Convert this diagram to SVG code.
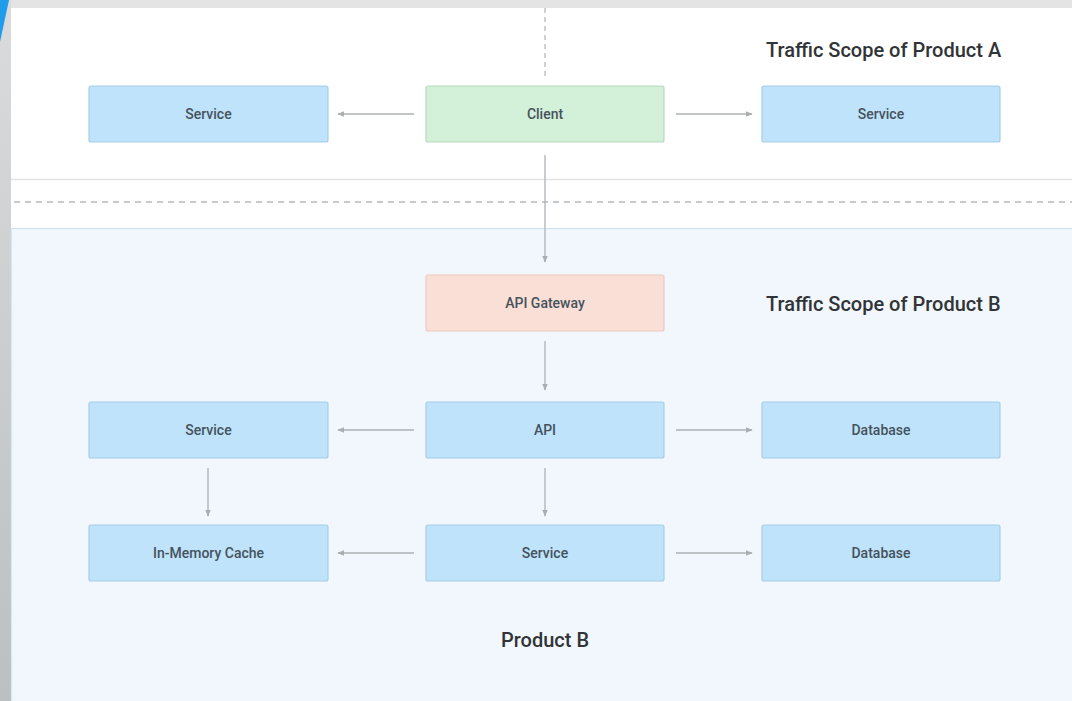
<svg xmlns="http://www.w3.org/2000/svg" width="1072" height="701" viewBox="0 0 1072 701">
  <defs>
    <marker id="ah" viewBox="0 0 10 10" refX="9" refY="5" markerWidth="7" markerHeight="7" markerUnits="userSpaceOnUse" orient="auto">
      <path d="M0,1 L10,5 L0,9 Z" fill="#a9aeb2"/>
    </marker>
    <linearGradient id="edge" x1="0" y1="0" x2="0" y2="1">
      <stop offset="0" stop-color="#dadbdc"/>
      <stop offset="1" stop-color="#bcc0c0"/>
    </linearGradient>
    <style>
      .box{stroke-width:1.2}
      .svc{fill:#bee3fa;stroke:#a6cde8}
      .cli{fill:#d3f0d8;stroke:#b5dabd}
      .gw{fill:#fadfd6;stroke:#efc9bc}
      .lbl{font-family:Roboto,"Liberation Sans",sans-serif;font-size:14px;font-weight:500;fill:#46525d;text-anchor:middle}
      .title{font-family:Roboto,"Liberation Sans",sans-serif;font-size:20px;font-weight:500;fill:#313436}
      .conn line{stroke:#adb2b6;stroke-width:1.3;fill:none}
    </style>
  </defs>

  <!-- backdrop -->
  <rect x="0" y="0" width="1072" height="701" fill="#ffffff"/>
  <rect x="0" y="0" width="1072" height="8" fill="#e4e4e4"/>
  <rect x="0" y="0" width="11" height="701" fill="url(#edge)"/>
  <polygon points="0,0 9,0 0,42" fill="#1f9cea"/>

  <!-- scope regions -->
  <line x1="11" y1="179.5" x2="1072" y2="179.5" stroke="#e4e4e4" stroke-width="1.5"/>
  <line x1="14" y1="202" x2="1072" y2="202" stroke="#b7b9bb" stroke-width="1.3" stroke-dasharray="6,5"/>
  <rect x="11" y="228" width="1061" height="473" fill="#f1f7fd"/>
  <line x1="11" y1="228.5" x2="1072" y2="228.5" stroke="#cbe1f1" stroke-width="1.2"/>
  <line x1="11.5" y1="228" x2="11.5" y2="701" stroke="#d6e8f5" stroke-width="1.2"/>

  <text class="title" x="766" y="57">Traffic Scope of Product A</text>
  <text class="title" x="766" y="311">Traffic Scope of Product B</text>
  <text class="title" x="545" y="647" text-anchor="middle">Product B</text>

  <!-- connectors -->
  <g class="conn">
    <line x1="545" y1="8" x2="545" y2="80" stroke-dasharray="5,4" style="stroke:#b7b9bb"/>
    <line x1="414" y1="114" x2="338" y2="114" marker-end="url(#ah)"/>
    <line x1="676" y1="114" x2="752" y2="114" marker-end="url(#ah)"/>
    <line x1="545" y1="155" x2="545" y2="262" marker-end="url(#ah)"/>
    <line x1="545" y1="341" x2="545" y2="390" marker-end="url(#ah)"/>
    <line x1="414" y1="430" x2="338" y2="430" marker-end="url(#ah)"/>
    <line x1="676" y1="430" x2="752" y2="430" marker-end="url(#ah)"/>
    <line x1="208" y1="468" x2="208" y2="516" marker-end="url(#ah)"/>
    <line x1="545" y1="468" x2="545" y2="516" marker-end="url(#ah)"/>
    <line x1="414" y1="553" x2="338" y2="553" marker-end="url(#ah)"/>
    <line x1="676" y1="553" x2="752" y2="553" marker-end="url(#ah)"/>
  </g>

  <!-- nodes -->
  <g id="service-a-left"><rect class="box svc" x="89" y="86" width="239" height="56" rx="2"/><text class="lbl" x="208.5" y="119">Service</text></g>
  <g id="client"><rect class="box cli" x="426" y="86" width="238" height="56" rx="2"/><text class="lbl" x="545" y="119">Client</text></g>
  <g id="service-a-right"><rect class="box svc" x="762" y="86" width="238" height="56" rx="2"/><text class="lbl" x="881" y="119">Service</text></g>
  <g id="api-gateway"><rect class="box gw" x="426" y="275" width="238" height="56" rx="2"/><text class="lbl" x="545" y="308">API Gateway</text></g>
  <g id="service-b-left"><rect class="box svc" x="89" y="402" width="239" height="56" rx="2"/><text class="lbl" x="208.5" y="435">Service</text></g>
  <g id="api"><rect class="box svc" x="426" y="402" width="238" height="56" rx="2"/><text class="lbl" x="545" y="435">API</text></g>
  <g id="database-1"><rect class="box svc" x="762" y="402" width="238" height="56" rx="2"/><text class="lbl" x="881" y="435">Database</text></g>
  <g id="in-memory-cache"><rect class="box svc" x="89" y="525" width="239" height="56" rx="2"/><text class="lbl" x="208.5" y="558">In-Memory Cache</text></g>
  <g id="service-b-mid"><rect class="box svc" x="426" y="525" width="238" height="56" rx="2"/><text class="lbl" x="545" y="558">Service</text></g>
  <g id="database-2"><rect class="box svc" x="762" y="525" width="238" height="56" rx="2"/><text class="lbl" x="881" y="558">Database</text></g>
</svg>
